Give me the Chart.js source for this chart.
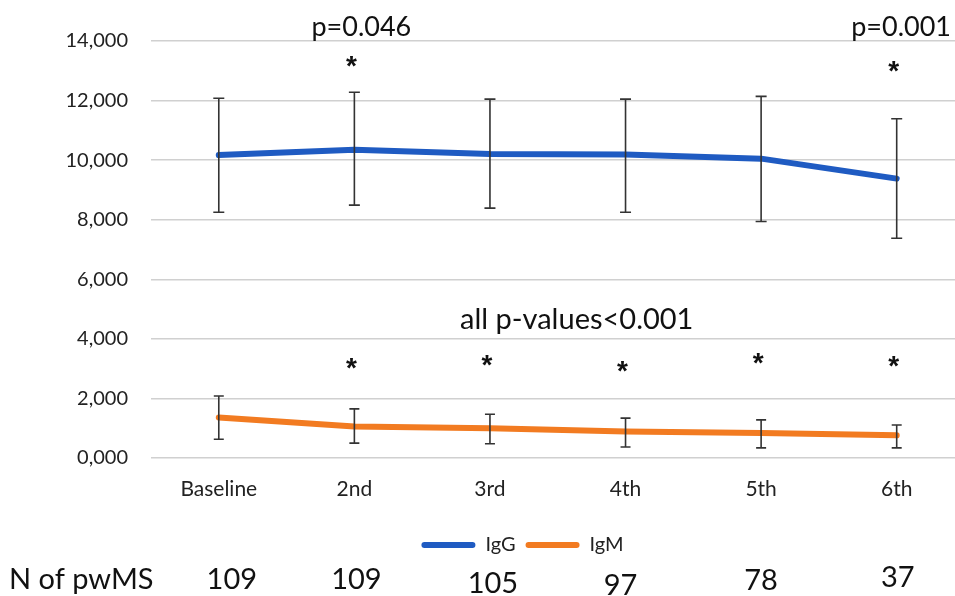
<!DOCTYPE html>
<html>
<head>
<meta charset="utf-8">
<script src="https://cdn.jsdelivr.net/npm/chart.js@4"></script>
<style>
  html, body { margin: 0; padding: 0; background: #fff; overflow: hidden; }
</style>
</head>
<body>
<canvas id="c" width="955" height="596"></canvas>
<script>
const categories = ['Baseline', '2nd', '3rd', '4th', '5th', '6th'];
const iggMean  = [10170, 10350, 10210, 10190, 10050, 9380];
const iggUpper = [12080, 12280, 12050, 12050, 12140, 11390];
const iggLower = [8250, 8490, 8390, 8250, 7940, 7380];
const igmMean  = [1360, 1060, 1000, 890, 840, 760];
const igmUpper = [2080, 1650, 1470, 1340, 1280, 1110];
const igmLower = [630, 500, 480, 370, 340, 340];
const nPatients = ['109', '109', '105', '97', '78', '37'];
const yTicks = [0, 2000, 4000, 6000, 8000, 10000, 12000, 14000];
const iggStarIdx = [1, 5];
const iggStarY = [13400, 13230];
const igmStarIdx = [1, 2, 3, 4, 5];
const igmStarY = [3270, 3370, 3170, 3440, 3340];

const FONT = 'Lato, "Open Sans", sans-serif';
const BLUE = '#1F5BC2';
const ORANGE = '#F27B21';

const toPts = arr => arr.map((v, i) => ({ x: i, y: v }));

const legendShift = {
  id: 'legendShift',
  afterLayout(chart) { if (chart.legend) chart.legend.left = 90; }
};

const extras = {
  id: 'extras',
  afterDatasetsDraw(chart) {
    const { ctx, scales: { x, y } } = chart;
    ctx.save();
    const bars = (up, lo, cap) => {
      ctx.strokeStyle = '#333';
      ctx.lineWidth = 1.6;
      up.forEach((u, i) => {
        const px = x.getPixelForValue(i);
        const pu = y.getPixelForValue(u), pl = y.getPixelForValue(lo[i]);
        ctx.beginPath();
        ctx.moveTo(px, pu); ctx.lineTo(px, pl);
        ctx.moveTo(px - cap, pu); ctx.lineTo(px + cap, pu);
        ctx.moveTo(px - cap, pl); ctx.lineTo(px + cap, pl);
        ctx.stroke();
      });
    };
    bars(iggUpper, iggLower, 5.5);
    bars(igmUpper, igmLower, 5);

    ctx.fillStyle = '#111';
    ctx.textAlign = 'center';
    ctx.textBaseline = 'middle';
    ctx.font = '27px ' + FONT;
    ctx.fillText('p=0.046', x.getPixelForValue(1) + 7, y.getPixelForValue(14470));
    ctx.textAlign = 'right';
    ctx.fillText('p=0.001', chart.width - 4, y.getPixelForValue(14470));
    ctx.textAlign = 'center';
    ctx.font = '29px ' + FONT;
    ctx.fillText('all p-values<0.001', x.getPixelForValue(2.64), y.getPixelForValue(4640));

    // asterisks
    ctx.font = 'bold 28px "Liberation Sans", Arial, sans-serif';
    ctx.textBaseline = 'alphabetic';
    const star = (i, v) => ctx.fillText('*', x.getPixelForValue(i) - 3, y.getPixelForValue(v) + 16);
    iggStarIdx.forEach((i, k) => star(i, iggStarY[k]));
    igmStarIdx.forEach((i, k) => star(i, igmStarY[k]));

    // N row
    ctx.textBaseline = 'middle';
    ctx.font = '29px ' + FONT;
    ctx.textAlign = 'left';
    ctx.fillText('N of pwMS', 9, 580);
    ctx.textAlign = 'center';
    const dx = [13, 2, 3, -5, 0, 1];
    const dy = [0, 0, 4, 6, 1, -2];
    nPatients.forEach((n, i) => {
      ctx.fillText(n, x.getPixelForValue(i) + dx[i], 580 + dy[i]);
    });
    ctx.restore();
  }
};

new Chart(document.getElementById('c'), {
  type: 'line',
  data: {
    datasets: [
      { label: 'IgG', data: toPts(iggMean), borderColor: BLUE, backgroundColor: BLUE, borderWidth: 6, pointRadius: 0, tension: 0, borderCapStyle: 'round', borderJoinStyle: 'round' },
      { label: 'IgM', data: toPts(igmMean), borderColor: ORANGE, backgroundColor: ORANGE, borderWidth: 6, pointRadius: 0, tension: 0, borderCapStyle: 'round', borderJoinStyle: 'round' }
    ]
  },
  options: {
    responsive: false,
    animation: false,
    devicePixelRatio: 1,
    layout: { padding: { top: 41, left: 0, right: 0, bottom: 31 } },
    plugins: {
      legend: {
        position: 'bottom',
        labels: {
          boxWidth: 54, boxHeight: 6, padding: 10, color: '#222',
          useBorderRadius: true, borderRadius: 3,
          font: { family: FONT, size: 20 },
          generateLabels: chart => chart.data.datasets.map((d, i) => ({
            text: d.label, fillStyle: d.borderColor, strokeStyle: d.borderColor,
            lineWidth: 0, borderRadius: 3, datasetIndex: i, fontColor: '#222'
          }))
        }
      },
      tooltip: { enabled: false }
    },
    scales: {
      x: {
        type: 'linear',
        min: -0.5,
        max: 5.43,
        grid: { display: false, drawTicks: false },
        border: { display: false },
        afterBuildTicks: s => { s.ticks = categories.map((c, i) => ({ value: i })); },
        afterFit: s => { s.height = 67; },
        ticks: {
          padding: 19,
          color: '#222',
          maxRotation: 0,
          font: { family: FONT, size: 21 },
          callback: v => categories[v]
        }
      },
      y: {
        min: 0,
        max: 14000,
        afterBuildTicks: s => { s.ticks = yTicks.map(v => ({ value: v })); },
        afterFit: s => { s.width = 151; },
        grid: { color: '#d0d0d0', lineWidth: 1.5, drawTicks: false },
        border: { display: false },
        ticks: {
          padding: 23,
          color: '#222',
          font: { family: FONT, size: 20 },
          callback: v => v === 0 ? '0,000' : v.toLocaleString('en-US')
        }
      }
    }
  },
  plugins: [extras, legendShift]
});
</script>
</body>
</html>
